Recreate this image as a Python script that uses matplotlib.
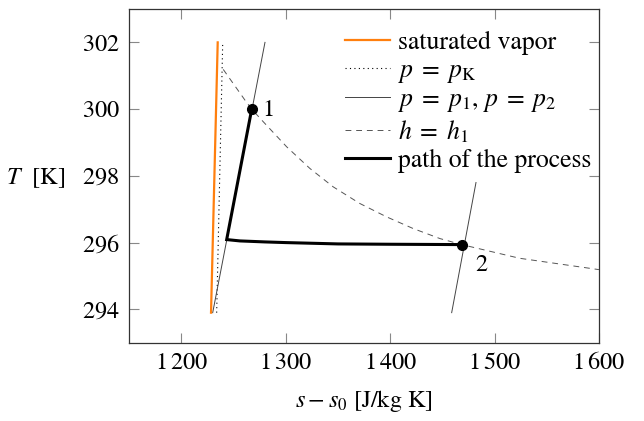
import matplotlib
matplotlib.use("Agg")
import matplotlib.pyplot as plt
import matplotlib.ticker as mt

plt.rcParams['mathtext.fontset'] = 'stix'
plt.rcParams['font.family'] = ['STIXGeneral', 'DejaVu Sans']
plt.rcParams['font.size'] = 17.5

# saturated vapor line
sat_s = [1228.3, 1234.7]
sat_T = [293.9, 302.0]

# p = p_K
pk_s = [1233.7, 1239.5]
pk_T = [293.9, 302.0]

# p = p1 and p = p2 isobars
p1_s = [1229.9, 1280.0]
p1_T = [293.9, 302.0]
p2_s = [1458.9, 1482.2]
p2_T = [293.9, 297.8]

# h = h1 isenthalp
h_s = [1240, 1260.8, 1267.3, 1278.4, 1300.8, 1323.1, 1345.4, 1371.0, 1396.6, 1422.1, 1447.7, 1468.5, 1524, 1600]
h_T = [301.19, 300.27, 300.0, 299.62, 298.87, 298.22, 297.67, 297.17, 296.77, 296.42, 296.12, 295.94, 295.53, 295.19]

# path of the process
path_s = [1267.3, 1243.3, 1256, 1280, 1300, 1350, 1400, 1468.5]
path_T = [300.0, 296.09, 296.05, 296.02, 296.0, 295.96, 295.95, 295.94]

pts_s = [1267.3, 1468.5]
pts_T = [300.0, 295.94]
pts_lbl = ['1', '2']

fig = plt.figure(figsize=(6.44, 4.21), dpi=100)
ax = fig.add_axes([0.2008, 0.186, 0.7292, 0.7926])

ax.plot(sat_s, sat_T, color='#ff7f0e', lw=1.6, label='saturated vapor', zorder=3)
ax.plot(pk_s, pk_T, color='black', lw=0.8, ls=(0, (1, 3)), label=r'$p\;=\;p_{\mathrm{K}}$')
ax.plot(p1_s, p1_T, color='#444444', lw=0.7, label=r'$p\;=\;p_1$, $p\;=\;p_2$')
ax.plot(p2_s, p2_T, color='#444444', lw=0.7)
ax.plot(h_s, h_T, color='#555555', lw=0.7, ls=(0, (6, 5)), label=r'$h\;=\;h_1$')
ax.plot(path_s, path_T, color='black', lw=2.2, solid_joinstyle='miter', label='path of the process')
ax.plot(pts_s, pts_T, 'o', color='black', ms=7, zorder=5)
ax.annotate(pts_lbl[0], (pts_s[0], pts_T[0]), xytext=(8, -1), textcoords='offset points', ha='left', va='center')
ax.annotate(pts_lbl[1], (pts_s[1], pts_T[1]), xytext=(10, -15), textcoords='offset points', ha='left', va='center')

ax.set_xlim(1150, 1600)
ax.set_ylim(293, 303)
ax.set_xticks([1200, 1300, 1400, 1500, 1600])
ax.set_yticks([294, 296, 298, 300, 302])
ax.xaxis.set_major_formatter(mt.FuncFormatter(lambda v, p: r'$%d\,%03d$' % (int(v) // 1000, int(v) % 1000)))
ax.yaxis.set_major_formatter(mt.FuncFormatter(lambda v, p: r'$%d$' % v))
ax.tick_params(direction='in', length=7.5, width=0.8, color='#888888', top=True, right=True, pad=7)
for sp in ax.spines.values():
    sp.set_color('#333333')
    sp.set_linewidth(0.9)

ax.set_xlabel(r'$s - s_0$ [J/kg K]')
ax.xaxis.set_label_coords(0.5, -0.136)
ax.set_ylabel(r'$T$  [K]', rotation=0, ha='center', va='center')
ax.yaxis.set_label_coords(-0.2, 0.494)

leg = ax.legend(loc='upper left', bbox_to_anchor=(0.459, 0.935), frameon=False, handlelength=1.75,
                handletextpad=0.31, labelspacing=0.15, borderaxespad=0, borderpad=0, fontsize=18.5)

fig.savefig('out.png', dpi=100)
